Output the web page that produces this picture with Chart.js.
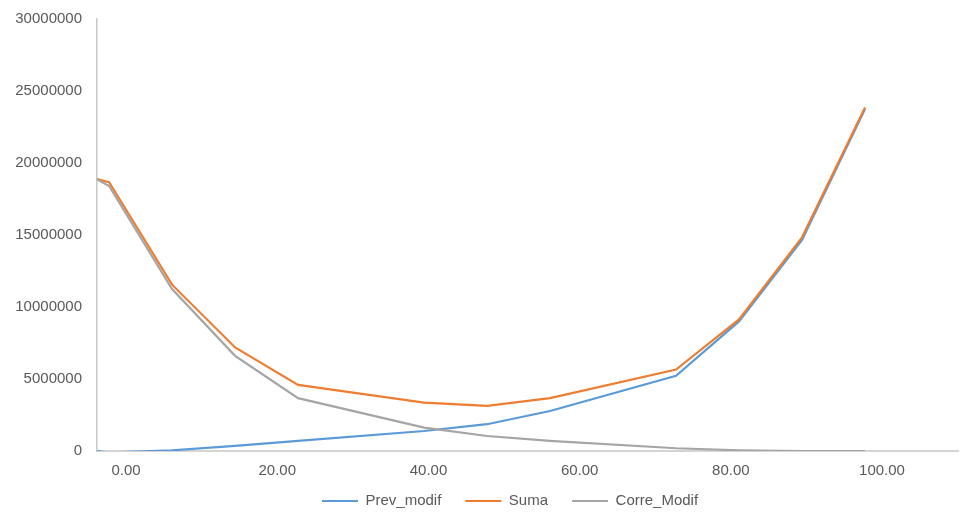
<!DOCTYPE html>
<html>
<head>
<meta charset="utf-8">
<script src="https://cdn.jsdelivr.net/npm/chart.js@4.4.1/dist/chart.umd.min.js"></script>
<style>
  html, body { margin: 0; padding: 0; background: #ffffff; }
  #wrap { width: 968px; height: 513px; position: relative; }
</style>
</head>
<body>
<div id="wrap"><canvas id="chart"></canvas></div>
<script>
// valores
const xValues = [-1.6, 0, 8.33, 16.67, 25, 41.67, 50, 58.33, 75, 83.33, 91.67, 100];

const prevModif = [0, -100000, 50000, 350000, 700000, 1390000, 1860000, 2780000, 5220000, 9000000, 14660000, 23750000];
const suma = [18880000, 18670000, 11550000, 7190000, 4590000, 3360000, 3130000, 3670000, 5660000, 9140000, 14840000, 23850000];
const correModif = [18880000, 18400000, 11250000, 6610000, 3670000, 1620000, 1040000, 700000, 190000, 50000, 0, 0];

const xTicks = [0, 20, 40, 60, 80, 100];
const yTicks = [0, 5000000, 10000000, 15000000, 20000000, 25000000, 30000000];

const seriesNames = ["Prev_modif", "Suma", "Corre_Modif"];
const seriesColors = ["#5B9BD5", "#ED7D31", "#A5A5A5"];

const textColor = "#595959";
const font = { family: "'Liberation Sans', Arial, sans-serif", size: 15 };

function points(values) {
    return values.map((v, i) => ({ x: xValues[i], y: v }));
}

const allSeries = [prevModif, suma, correModif];

const datasets = allSeries.map((values, i) => ({
    label: seriesNames[i],
    data: points(values),
    borderColor: seriesColors[i],
    backgroundColor: seriesColors[i],
    borderWidth: 2.2,
    pointRadius: 0,
    tension: 0,
    order: 3 - i
}));

// mover la leyenda como en la imagen (un poco a la derecha)
const legendShift = {
    id: "legendShift",
    afterLayout(chart) {
        const lg = chart.legend;
        if (!lg || !lg.lineWidths) return;
        const pad = lg.options.labels.padding;
        const startX = (lg.left + pad + lg.right - lg.lineWidths[0]) / 2;
        const dx = 322 - startX;
        const dy = 501 - (lg.top + pad + 7.5);
        lg.left += dx; lg.right += dx;
        lg.top += dy; lg.bottom += dy;
    }
};

new Chart(document.getElementById("chart"), {
    type: "line",
    data: { datasets },
    plugins: [legendShift],
    options: {
        responsive: true,
        maintainAspectRatio: false,
        animation: false,
        layout: {
            padding: { left: 10, right: 10, top: 19, bottom: -17 }
        },
        scales: {
            x: {
                type: "linear",
                min: -1.6,
                max: 112.3,
                afterBuildTicks: (s) => {
                    s.ticks = xTicks.map(v => ({ value: v }));
                },
                afterFit: (s) => { s.height = 30; },
                grid: { display: false, drawTicks: false },
                border: { color: "#D4D4D4", width: 2 },
                ticks: {
                    color: textColor,
                    font: font,
                    padding: 11,
                    labelOffset: 17,
                    maxRotation: 0,
                    callback: (v) => Number(v).toFixed(2)
                }
            },
            y: {
                min: 0,
                max: 30000000,
                afterBuildTicks: (s) => {
                    s.ticks = yTicks.map(v => ({ value: v }));
                },
                afterFit: (s) => {
                    s.width = 87;
                    s.paddingTop = 0;
                    s.paddingBottom = 0;
                },
                grid: { display: false, drawTicks: false },
                border: { color: "#C8C8C8", width: 1.5 },
                ticks: {
                    color: textColor,
                    font: font,
                    padding: 15,
                    callback: (v) => String(v)
                }
            }
        },
        plugins: {
            tooltip: { enabled: false },
            legend: {
                position: "bottom",
                labels: {
                    color: textColor,
                    font: font,
                    boxWidth: 36,
                    boxHeight: 2,
                    padding: 24,
                    sort: (a, b) => a.datasetIndex - b.datasetIndex,
                    generateLabels: (chart) => {
                        const items = Chart.defaults.plugins.legend.labels.generateLabels(chart);
                        items.forEach(it => {
                            it.fillStyle = it.strokeStyle;
                            it.lineWidth = 0;
                        });
                        return items;
                    }
                }
            }
        }
    }
});
</script>
</body>
</html>
